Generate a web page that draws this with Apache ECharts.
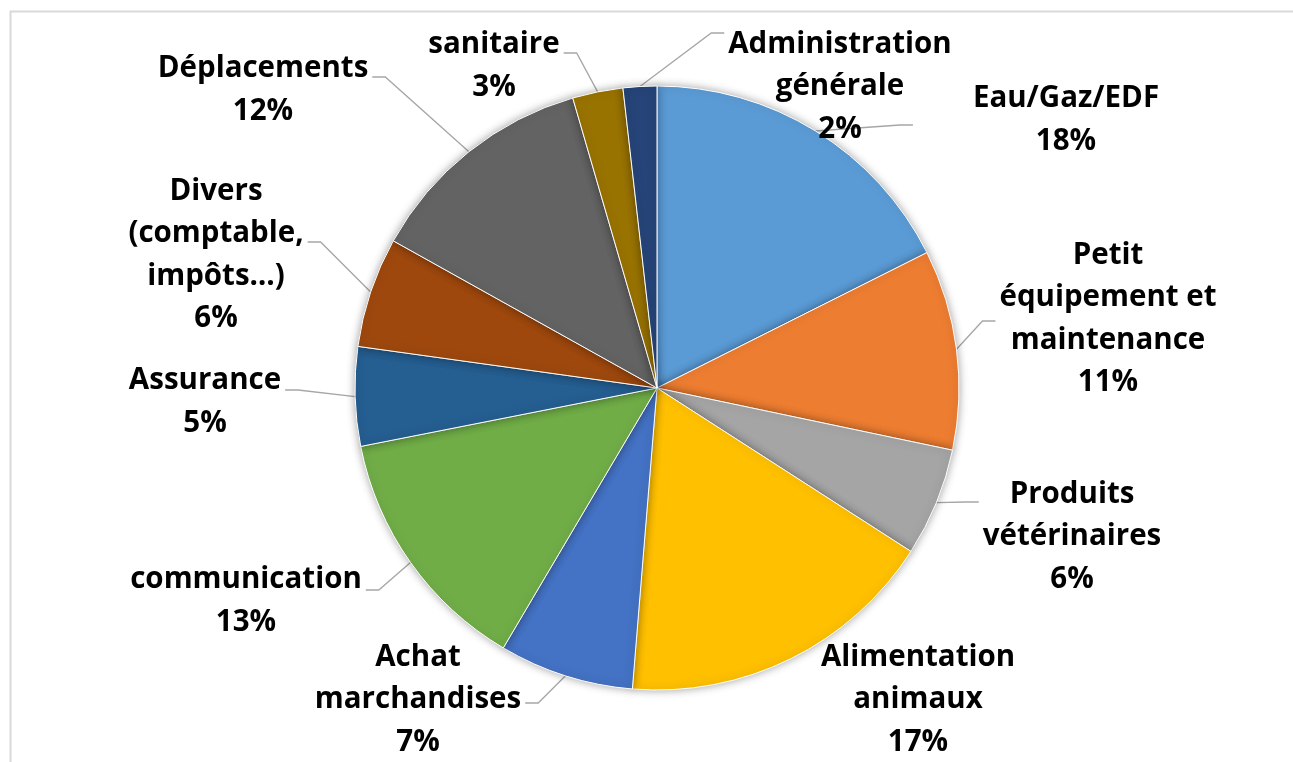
<!DOCTYPE html>
<html>
<head>
<meta charset="utf-8">
<script src="https://cdn.jsdelivr.net/npm/echarts@6/dist/echarts.min.js"></script>
<style>
html,body{margin:0;padding:0;background:#fff;}
#chart{width:1293px;height:762px;}
</style>
</head>
<body>
<div id="chart"></div>
<script>
const categories = [
  'Eau/Gaz/EDF',
  'Petit\néquipement et\nmaintenance',
  'Produits\nvétérinaires',
  'Alimentation\nanimaux',
  'Achat\nmarchandises',
  'communication',
  'Assurance',
  'Divers\n(comptable,\nimpôts…)',
  'Déplacements',
  'sanitaire',
  'Administration\ngénérale'
];
const values = [17.6, 10.7, 5.8, 17.2, 7.2, 13.4, 5.3, 5.9, 12.4, 2.7, 1.8];
const colors = ['#5B9BD5','#ED7D31','#A5A5A5','#FFC000','#4472C4','#70AD47','#255E91','#9E480E','#636363','#997300','#264478'];

const chart = echarts.init(document.getElementById('chart'), null, {renderer:'canvas'});

// label layout: block centre, side where the leader attaches, vertical offset of attachment, gap to text
const labelLayoutSpec = [
  {c:[1066,120], side:'left',  dy:5,   gap:60},
  {c:[1108,319], side:'left',  dy:2,   gap:4},
  {c:[1072,537], side:'left',  dy:-35, gap:4},
  {c:[918,700],  side:'none'},
  {c:[418,700],  side:'right', dy:3,   gap:4},
  {c:[246,601],  side:'right', dy:-11, gap:4},
  {c:[205,402],  side:'right', dy:-12, gap:4},
  {c:[216,255],  side:'right', dy:-13, gap:4},
  {c:[263,90],   side:'right', dy:-13, gap:4},
  {c:[494,66],   side:'right', dy:-13, gap:4},
  {c:[840,87],   side:'left',  dy:-54, gap:4}
];

chart.setOption({
  backgroundColor:'#fff',
  animation:false,
  graphic:[{
    type:'rect', left:8, top:9, z:-10,
    shape:{width:1300, height:800},
    style:{fill:'none', stroke:'#d9d9d9', lineWidth:2}
  }],
  series:[{
    type:'pie',
    center:[657,388],
    radius:[0,302],
    startAngle:90,
    clockwise:true,
    percentPrecision:0,
    data: categories.map((c,i)=>({
      name:c, value:values[i], itemStyle:{color:colors[i]},
      labelLine:{show: labelLayoutSpec[i].side !== 'none'}
    })),
    itemStyle:{borderColor:'#ffffff', borderWidth:1, shadowBlur:8, shadowColor:'rgba(0,0,0,0.35)'},
    label:{
      show:true,
      position:'outside',
      formatter:'{b}\n{d}%',
      fontFamily:'Open Sans',
      fontWeight:'bold',
      fontSize:29.5,
      lineHeight:42.5,
      color:'#000',
      align:'center'
    },
    labelLine:{show:true, length:10, length2:10, lineStyle:{color:'#a6a6a6', width:1.3}},
    labelLayout:function(p){
      const s = labelLayoutSpec[p.dataIndex];
      const out = {x:s.c[0], y:s.c[1], align:'center', verticalAlign:'middle'};
      if (s.side !== 'none' && p.labelLinePoints && p.labelRect) {
        const start = p.labelLinePoints[0];
        const w = p.labelRect.width;
        const sign = s.side === 'right' ? 1 : -1;
        const endX = s.c[0] + sign * (w / 2 + s.gap);
        const endY = s.c[1] + s.dy;
        const elbowX = endX + sign * 13;
        out.labelLinePoints = [[start[0], start[1]], [elbowX, endY], [endX, endY]];
      }
      return out;
    },
    emphasis:{disabled:true}
  }]
});
</script>
</body>
</html>
